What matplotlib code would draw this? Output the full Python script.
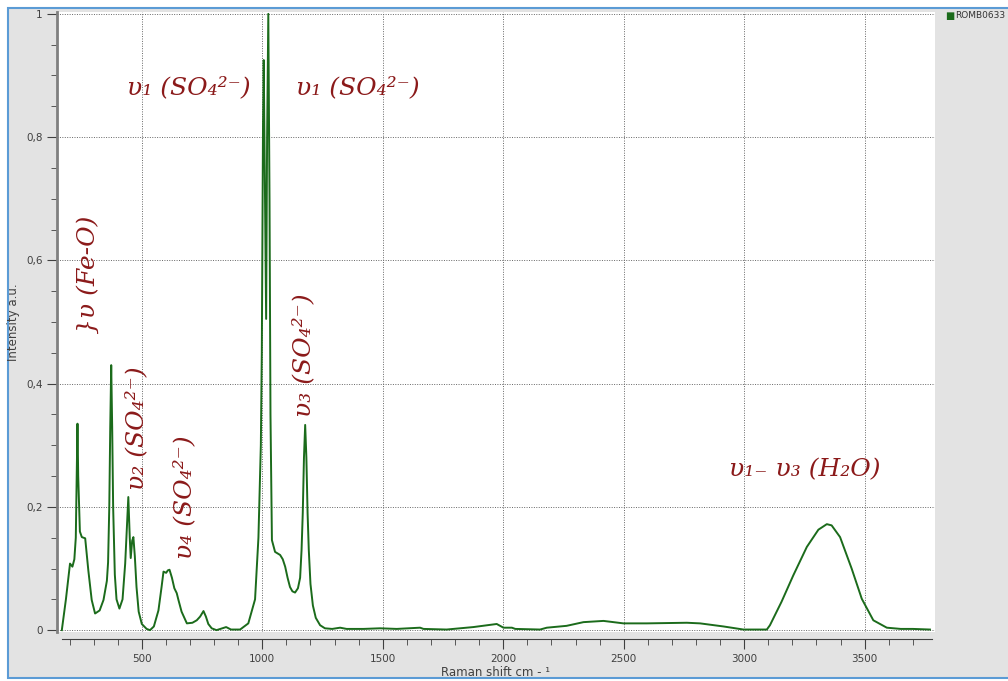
import matplotlib.pyplot as plt
from matplotlib.patches import Rectangle
from matplotlib.ticker import MultipleLocator, FuncFormatter

# spectrum (Raman shift cm-1, intensity a.u.)
shift = [168, 185, 202, 212, 220, 226, 230, 233, 236, 243, 251, 265, 278, 292,
         306, 325, 341, 355, 360, 365, 369, 373, 377, 381, 388, 395, 407, 420,
         431, 436, 444, 450, 454, 460, 465, 471, 478, 487, 500, 520, 534, 550,
         569, 582, 590, 601, 608, 615, 625, 635, 645, 652, 665, 687, 710, 728,
         742, 756, 766, 776, 790, 810, 850, 870, 908, 942, 970, 984, 994, 998,
         1003, 1006, 1010, 1016, 1020, 1025, 1030, 1034, 1040, 1053, 1074, 1085,
         1095, 1105, 1115, 1125, 1136, 1148, 1157, 1163, 1168, 1173, 1178, 1183,
         1188, 1193, 1200, 1210, 1222, 1240, 1260, 1290, 1323, 1350, 1420, 1489,
         1558, 1655, 1669, 1765, 1876, 1973, 2001, 2036, 2050, 2153, 2181, 2263,
         2333, 2416, 2499, 2596, 2762, 2817, 2914, 2997, 3094, 3107, 3155, 3204,
         3260, 3308, 3343, 3363, 3398, 3446, 3488, 3536, 3592, 3650, 3700, 3771]
intensity = [0.0, 0.05, 0.108, 0.103, 0.115, 0.15, 0.25, 0.335, 0.25, 0.16,
             0.151, 0.149, 0.097, 0.049, 0.027, 0.032, 0.049, 0.08, 0.11, 0.2,
             0.33, 0.43, 0.33, 0.2, 0.09, 0.05, 0.035, 0.05, 0.108, 0.15, 0.216,
             0.15, 0.117, 0.145, 0.151, 0.12, 0.07, 0.03, 0.01, 0.002, 0.0,
             0.006, 0.032, 0.07, 0.095, 0.093, 0.097, 0.098, 0.085, 0.068, 0.06,
             0.049, 0.03, 0.011, 0.012, 0.016, 0.022, 0.031, 0.022, 0.01, 0.003,
             0.0, 0.005, 0.001, 0.001, 0.011, 0.05, 0.15, 0.30, 0.45, 0.82,
             0.925, 0.75, 0.505, 0.8, 1.0, 0.7, 0.35, 0.146, 0.127, 0.122, 0.115,
             0.103, 0.085, 0.07, 0.063, 0.061, 0.068, 0.085, 0.13, 0.19, 0.28,
             0.333, 0.28, 0.19, 0.13, 0.075, 0.04, 0.02, 0.008, 0.003, 0.002,
             0.004, 0.002, 0.002, 0.003, 0.002, 0.004, 0.002, 0.001, 0.005, 0.01,
             0.004, 0.004, 0.002, 0.001, 0.004, 0.007, 0.013, 0.015, 0.011,
             0.011, 0.012, 0.011, 0.006, 0.001, 0.001, 0.008, 0.046, 0.089,
             0.135, 0.163, 0.172, 0.170, 0.151, 0.1, 0.051, 0.016, 0.004, 0.002,
             0.002, 0.001]

# band labels: text, x, y, rotation
labels = ["\u03c5\u2081 (SO\u2084\u00b2\u207b)", "\u03c5\u2081 (SO\u2084\u00b2\u207b)",
          "}\u03c5 (Fe-O)", "\u03c5\u2082 (SO\u2084\u00b2\u207b)",
          "\u03c5\u2084 (SO\u2084\u00b2\u207b)", "\u03c5\u2083 (SO\u2084\u00b2\u207b)",
          "\u03c5\u2081\u208b \u03c5\u2083 (H\u2082O)"]
label_x = [696, 1395, 277, 480, 680, 1173, 3253]
label_y = [0.88, 0.88, 0.576, 0.328, 0.216, 0.446, 0.26]
label_rot = [0, 0, 90, 90, 90, 90, 0]

W, H = 1008, 681
fig = plt.figure(figsize=(W / 100, H / 100), dpi=100)
fig.patch.set_facecolor("white")

# grey panel with blue frame
fig.patches.append(Rectangle((8 / W, 3 / H), 1.2, 670 / H, transform=fig.transFigure,
                             facecolor="#e3e3e3", edgecolor="#5b9bd5", lw=1.5, zorder=-10))

ax = fig.add_axes([57 / W, 1 - 632 / H, (935 - 57) / W, (632 - 12) / H])
ax.set_zorder(5)
ax.set_facecolor("white")
ax.plot(shift, intensity, color="#1b6b1b", lw=1.4)

ax.set_xlim(148, 3792)
ax.set_ylim(-0.003, 1.003)

ax.xaxis.set_major_locator(MultipleLocator(500))
ax.xaxis.set_minor_locator(MultipleLocator(100))
ax.yaxis.set_major_locator(MultipleLocator(0.2))
ax.yaxis.set_minor_locator(MultipleLocator(0.05))
ax.yaxis.set_major_formatter(FuncFormatter(lambda v, p: ("%g" % round(v, 2)).replace(".", ",")))
ax.xaxis.set_major_formatter(FuncFormatter(lambda v, p: "%d" % v))

ax.grid(True, which="major", color="#666666", ls=(0, (1, 1.5)), lw=0.7)

for s in ["top", "right"]:
    ax.spines[s].set_visible(False)
ax.spines["left"].set_color("#808080")
ax.spines["left"].set_linewidth(2)
ax.spines["bottom"].set_position(("outward", 5))
ax.spines["bottom"].set_bounds(169, 3780)
ax.spines["bottom"].set_color("#404040")

ax.tick_params(axis="both", which="both", colors="#404040", labelsize=7.5, direction="out")
ax.tick_params(axis="both", which="major", length=7)
ax.tick_params(axis="both", which="minor", length=4)

ax.set_xlabel("Raman shift cm - \u00b9", fontsize=8.5, color="#404040", labelpad=2)
ax.set_ylabel("Intensity a.u.", fontsize=8.5, color="#404040", labelpad=4)

for t, x, y, r in zip(labels, label_x, label_y, label_rot):
    ax.text(x, y, t, rotation=r, ha="center", va="center", color="#8b1a1a",
            fontsize=18, style="italic", family="DejaVu Serif")

# legend strip
fig.text(945 / W, 1 - 16 / H, "\u25a0", color="#1b6b1b", fontsize=7, va="center")
fig.text(955 / W, 1 - 16 / H, "ROMB0633", color="#333333", fontsize=6.5, va="center")

fig.savefig("out.png", dpi=100, facecolor=fig.get_facecolor())
